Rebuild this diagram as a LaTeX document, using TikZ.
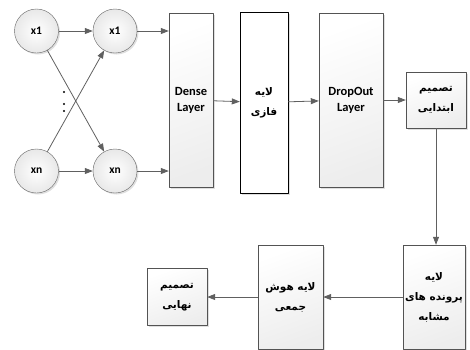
\documentclass[tikz,border=0pt]{standalone}
\usepackage{fontspec}
\setmainfont{Carlito}
\newfontfamily\farsifont[Script=Arabic]{DejaVu Sans}
\TeXXeTstate=1
\usetikzlibrary{arrows.meta,shadows}
\newcommand{\farsiline}[1]{{\farsifont\bfseries\beginR #1\endR}}
\tikzset{>={Triangle[length=8pt,width=6pt]}}
\tikzset{
  conn/.style={->, draw=gray!75!black, line width=0.8pt, color=gray!75!black},
  neuron/.style={circle, draw=gray!80!black, minimum size=44pt, inner sep=0pt,
    shading=radial, inner color=white, outer color=gray!18,
    drop shadow={opacity=0.25, shadow xshift=1.5pt, shadow yshift=-1.5pt},
    font=\fontsize{11.5}{13}\selectfont\bfseries},
  layerbox/.style={rectangle, draw=gray!65!black, inner sep=2pt, align=center,
    shading=axis, top color=white, bottom color=gray!14, shading angle=20,
    drop shadow={opacity=0.25, shadow xshift=1.5pt, shadow yshift=-1.5pt},
    font=\fontsize{12.5}{16}\selectfont\bfseries},
  farsibox/.style={layerbox, font=\fontsize{10.5}{20}\selectfont}
}

\begin{document}
\begin{tikzpicture}[x=1pt, y=-1pt, line join=round]
    \useasboundingbox (0,0) rectangle (470,349);

    \node[neuron] (x1a) at (36.5,31) {x1};
    \node[neuron] (xna) at (36.5,171) {xn};
    \node[neuron] (x1b) at (115,31) {x1};
    \node[neuron] (xnb) at (115,171) {xn};
    \foreach \y in {92,104,111}
        \fill (64,\y) circle (1.2pt);

    \node[layerbox, minimum width=44pt, minimum height=174pt] (dense) at (191,100) {Dense\\Layer};
    \node[farsibox, draw=black, top color=white, bottom color=white, minimum width=48pt, minimum height=181pt] (fazi) at (264,102.5) {\farsiline{لایه}\\\farsiline{فازی}};
    \node[layerbox, minimum width=64pt, minimum height=174pt] (dropout) at (351,100) {DropOut\\Layer};
    \node[farsibox, minimum width=60pt, minimum height=56pt] (init) at (436,100) {\farsiline{تصمیم}\\\farsiline{ابتدایی}};

    \node[farsibox, minimum width=62pt, minimum height=104pt] (parvande) at (434,297) {\farsiline{لایه}\\\farsiline{پرونده های}\\\farsiline{مشابه}};
    \node[farsibox, minimum width=65pt, minimum height=104pt] (hoosh) at (290.5,297) {\farsiline{لایه  هوش}\\\farsiline{جمعی}};
    \node[farsibox, minimum width=60pt, minimum height=57pt] (final) at (177,297) {\farsiline{تصمیم}\\\farsiline{نهایی}};

    \draw[conn] (x1a) -- (x1b);
    \draw[conn] (xna) -- (xnb);
    \draw[conn] (x1a) -- (xnb);
    \draw[conn] (xna) -- (x1b);
    \draw[conn] (x1b) -- (x1b -| dense.west);
    \draw[conn] (xnb) -- (xnb -| dense.west);
    \draw[conn] (dense) -- (fazi);
    \draw[conn] (fazi) -- (dropout);
    \draw[conn] (dropout) -- (init);
    \draw[conn] (init) -- (init |- parvande.north);
    \draw[conn] (parvande) -- (hoosh);
    \draw[conn] (hoosh) -- (final);

\end{tikzpicture}
\end{document}
